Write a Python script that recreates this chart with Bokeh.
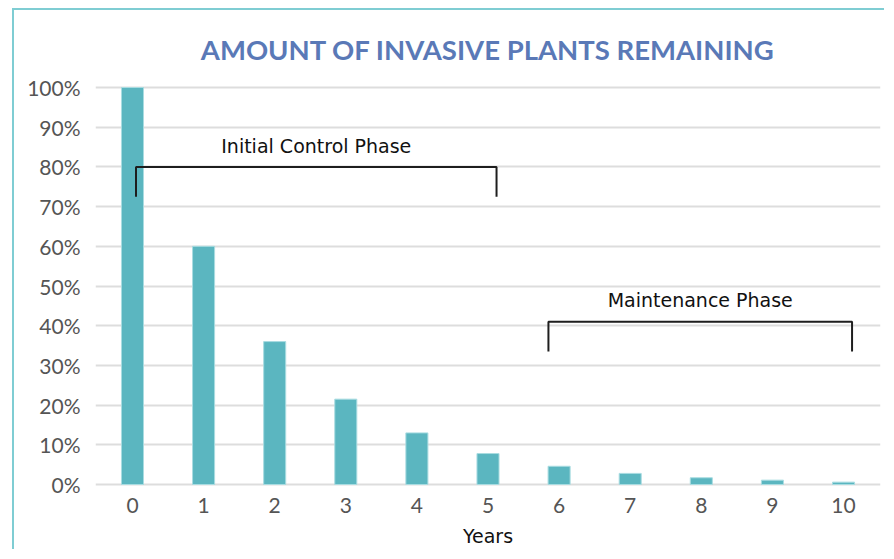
from bokeh.plotting import figure
from bokeh.models import ColumnDataSource, FixedTicker, Range1d, Label
from bokeh.embed import file_html
from bokeh.resources import INLINE

# ---- data ----
years = [0, 1, 2, 3, 4, 5, 6, 7, 8, 9, 10]
remaining = [100, 60, 36, 21.5, 13, 7.8, 4.6, 2.8, 1.7, 1.1, 0.6]
y_ticks = [0, 10, 20, 30, 40, 50, 60, 70, 80, 90, 100]
y_tick_labels = ["0%", "10%", "20%", "30%", "40%", "50%", "60%", "70%", "80%", "90%", "100%"]
x_tick_labels = [str(y) for y in years]

phase_names = ["Initial Control Phase", "Maintenance Phase"]
phase_start = [0.05, 5.85]
phase_end = [5.12, 10.12]
phase_level = [80, 41]
phase_drop = [72.5, 33.5]
phase_label_y = [82.5, 43.7]

title_text = "AMOUNT OF INVASIVE PLANTS REMAINING"

BAR = "#5bb6c0"
BORDER = "#7fcdd3"

p = figure(width=872, height=541, output_backend="svg", toolbar_location=None,
           x_range=Range1d(-0.52, 10.52), y_range=Range1d(-0.5, 100.5),
           min_border_left=81, min_border_right=6, min_border_top=75,
           min_border_bottom=65)
p.styles = {"border-top": f"2px solid {BORDER}", "border-left": f"2px solid {BORDER}",
            "margin-left": "12px", "margin-top": "8px"}

p.title.text = title_text
p.title.align = "center"
p.title.text_font = "Lato"
p.title.text_font_size = "27.5px"
p.title.text_font_style = "bold"
p.title.text_color = "#5a79b7"
p.title.standoff = 40

src = ColumnDataSource(dict(x=years, top=remaining))
p.vbar(x="x", top="top", bottom=0, width=0.31, source=src,
       fill_color=BAR, line_color="#a9dce1", line_width=1)

# brackets
xs = [[s, s, e, e] for s, e in zip(phase_start, phase_end)]
ys = [[d, l, l, d] for l, d in zip(phase_level, phase_drop)]
p.multi_line(xs=xs, ys=ys, line_color="#1e1e1e", line_width=2)
for name, s, e, ly in zip(phase_names, phase_start, phase_end, phase_label_y):
    p.add_layout(Label(x=(s + e) / 2, y=ly, text=name, text_align="center",
                       text_baseline="bottom", text_font="DejaVu Sans",
                       text_font_size="19px", text_color="#111111"))

# axes
p.yaxis.ticker = FixedTicker(ticks=y_ticks)
p.yaxis.major_label_overrides = {t: l for t, l in zip(y_ticks, y_tick_labels)}
p.xaxis.ticker = FixedTicker(ticks=years)
p.xaxis.major_label_overrides = {t: l for t, l in zip(years, x_tick_labels)}
for ax in (p.xaxis[0], p.yaxis[0]):
    ax.axis_line_color = None
    ax.major_tick_line_color = None
    ax.minor_tick_line_color = None
    ax.major_label_text_font = "Lato"
    ax.major_label_text_font_size = "21px"
    ax.major_label_text_color = "#555555"
p.yaxis.major_label_standoff = 9
p.xaxis.major_label_standoff = 5
p.xaxis.axis_label = "Years"
p.xaxis.axis_label_text_font = "DejaVu Sans"
p.xaxis.axis_label_text_font_size = "19px"
p.xaxis.axis_label_text_font_style = "normal"
p.xaxis.axis_label_text_color = "#111111"
p.xaxis.axis_label_standoff = 9

p.xgrid.grid_line_color = None
p.ygrid.grid_line_color = "#dddddd"
p.ygrid.grid_line_width = 2
p.outline_line_color = None

open("out.html", "w").write(file_html(p, INLINE))
